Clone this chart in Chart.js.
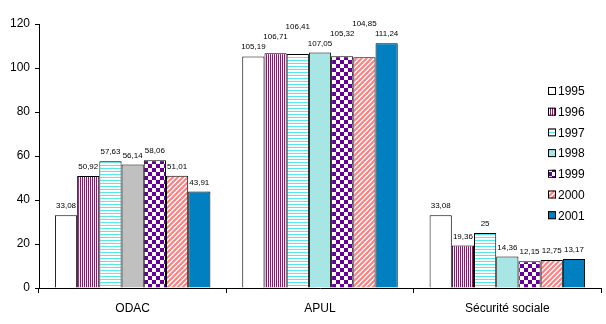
<!DOCTYPE html>
<html>
<head>
<meta charset="utf-8">
<script src="https://cdn.jsdelivr.net/npm/chart.js@4"></script>
<style>
  html, body { margin: 0; padding: 0; background: #fff; }
  #wrap { width: 606px; height: 324px; position: relative; }
</style>
</head>
<body>
<div id="wrap"><canvas id="chart"></canvas></div>
<script>
const categories = ["ODAC", "APUL", "Sécurité sociale"];
const years = ["1995", "1996", "1997", "1998", "1999", "2000", "2001"];

const v1995 = [33.08, 105.19, 33.08];
const v1996 = [50.92, 106.71, 19.36];
const v1997 = [57.63, 106.41, 25];
const v1998 = [56.14, 107.05, 14.36];
const v1999 = [58.06, 105.32, 12.15];
const v2000 = [51.01, 104.85, 12.75];
const v2001 = [43.91, 111.24, 13.17];

const yTicks = [0, 20, 40, 60, 80, 100, 120];

const FONT = "'Liberation Sans', Arial, sans-serif";

// small repeating tiles for the hatched fills
function makePattern(size, draw) {
  const c = document.createElement("canvas");
  c.width = size;
  c.height = size;
  const g = c.getContext("2d");
  g.fillStyle = "#fff";
  g.fillRect(0, 0, size, size);
  draw(g, size);
  return g.createPattern(c, "repeat");
}

const vStripes = makePattern(2, (g) => {
  g.fillStyle = "#802060";
  g.fillRect(0, 0, 1, 2);
});
const hStripes = makePattern(3, (g) => {
  g.fillStyle = "#55e8e8";
  g.fillRect(0, 0, 3, 1);
});
const checker = makePattern(8, (g) => {
  g.fillStyle = "#660099";
  g.fillRect(0, 0, 4, 4);
  g.fillRect(4, 4, 4, 4);
});
const diag = makePattern(5, (g, n) => {
  g.strokeStyle = "#ff8080";
  g.lineWidth = 2.2;
  g.beginPath();
  g.moveTo(-1, n + 1); g.lineTo(n + 1, -1);
  g.moveTo(-1, 1); g.lineTo(1, -1);
  g.moveTo(n - 1, n + 1); g.lineTo(n + 1, n - 1);
  g.stroke();
});

const series = [v1995, v1996, v1997, v1998, v1999, v2000, v2001];
const fills = [
  "#ffffff",
  vStripes,
  hStripes,
  ["#c0c0c0", "#a8e6e6", "#a8e6e6"],
  checker,
  diag,
  "#0080c0",
];
const legendFills = ["#ffffff", vStripes, hStripes, "#a8e6e6", checker, diag, "#0080c0"];

const fmt = (v) => String(v).replace(".", ",");

// value labels above each bar; pushed up to clear taller neighbours and earlier labels
const valueLabels = {
  id: "valueLabels",
  afterDatasetsDraw(chart) {
    const ctx = chart.ctx;
    ctx.save();
    ctx.font = "8px " + FONT;
    ctx.fillStyle = "#000";
    ctx.textAlign = "center";
    ctx.textBaseline = "bottom";
    const h = 9;
    categories.forEach((cat, i) => {
      const bars = chart.data.datasets.map((ds, d) => chart.getDatasetMeta(d).data[i]);
      const placed = [];
      chart.data.datasets.forEach((ds, d) => {
        const bar = bars[d];
        const text = fmt(ds.data[i]);
        const w = ctx.measureText(text).width;
        const l = bar.x - w / 2;
        const r = bar.x + w / 2;
        let y = bar.y - 5;
        bars.forEach((b) => {
          if (b.x - b.width / 2 < r - 1 && b.x + b.width / 2 > l + 1) y = Math.min(y, b.y - 2);
        });
        let moved = true;
        while (moved) {
          moved = false;
          placed.forEach((p) => {
            if (l < p.r + 1 && r > p.l - 1 && y > p.y - h - 1 && y - h - 1 < p.y) {
              y = p.y - h - 1;
              moved = true;
            }
          });
        }
        ctx.fillText(text, bar.x, y);
        placed.push({ l, r, y });
      });
    });
    ctx.restore();
  },
};

// legend box drawn over the right side of the plot
const boxLegend = {
  id: "boxLegend",
  afterDraw(chart) {
    const ctx = chart.ctx;
    ctx.save();
    ctx.font = "12px " + FONT;
    ctx.textBaseline = "middle";
    ctx.textAlign = "left";
    years.forEach((yr, i) => {
      const y = 91 + i * 20.7;
      ctx.fillStyle = legendFills[i];
      ctx.fillRect(548, y - 4, 8, 8);
      ctx.strokeStyle = "#000";
      ctx.lineWidth = 1;
      ctx.strokeRect(548.5, y - 3.5, 7, 7);
      ctx.fillStyle = "#000";
      ctx.fillText(yr, 558, y + 1);
    });
    ctx.restore();
  },
};

new Chart(document.getElementById("chart"), {
  type: "bar",
  data: {
    labels: categories,
    datasets: years.map((yr, i) => ({
      label: yr,
      data: series[i],
      backgroundColor: fills[i],
      borderColor: "#000",
      borderWidth: 1,
      barPercentage: 1,
      categoryPercentage: 0.83,
    })),
  },
  options: {
    responsive: true,
    maintainAspectRatio: false,
    animation: false,
    layout: { padding: { top: 24, right: 5, left: 0, bottom: 0 } },
    plugins: {
      legend: { display: false },
      tooltip: { enabled: false },
    },
    scales: {
      x: {
        grid: {
          display: true,
          drawOnChartArea: false,
          offset: true,
          color: "#000",
          tickLength: 5,
        },
        border: { color: "#000" },
        ticks: { color: "#000", font: { family: FONT, size: 12 }, padding: 8 },
        afterFit: (scale) => { scale.height = 36; },
      },
      y: {
        min: 0,
        max: 120,
        afterBuildTicks: (scale) => {
          scale.ticks = yTicks.map((v) => ({ value: v }));
        },
        grid: {
          display: true,
          drawOnChartArea: false,
          color: "#000",
          tickLength: 4,
        },
        border: { color: "#000" },
        ticks: { color: "#000", font: { family: FONT, size: 12 }, padding: 5 },
        afterFit: (scale) => { scale.width = 39; },
      },
    },
  },
  plugins: [valueLabels, boxLegend],
});
</script>
</body>
</html>
